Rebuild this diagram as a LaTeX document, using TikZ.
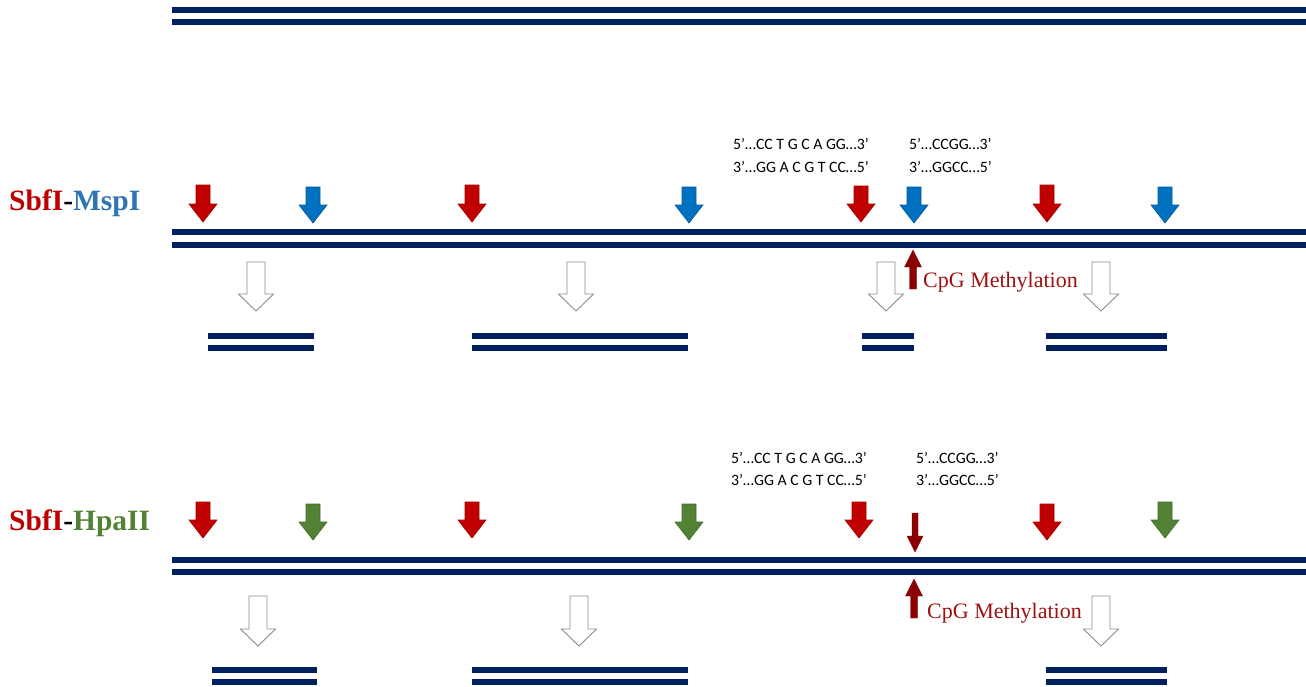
\documentclass[tikz,border=0pt]{standalone}
\usepackage{fontspec}
\setmainfont{Liberation Serif}
\newfontfamily\seqfont{Carlito}
\definecolor{navy}{HTML}{002060}
\definecolor{arrred}{HTML}{C00000}
\definecolor{arrblue}{HTML}{0070C0}
\definecolor{arrgreen}{HTML}{548235}
\definecolor{txtblue}{HTML}{2E75B6}
\definecolor{txtgreen}{HTML}{548235}
\definecolor{methred}{HTML}{8B0000}
\definecolor{methtxt}{HTML}{A01010}
\newcommand\downarr[7]{% style, x, ytop, ytip, shaft half, head half, head length
  \filldraw[#1] (#2-#5,#3) -- (#2+#5,#3) -- (#2+#5,#4-#7) -- (#2+#6,#4-#7) -- (#2,#4) -- (#2-#6,#4-#7) -- (#2-#5,#4-#7) -- cycle;}
\newcommand\uparr[7]{% style, x, ybottom, ytip, shaft half, head half, head length
  \filldraw[#1] (#2-#5,#3) -- (#2+#5,#3) -- (#2+#5,#4+#7) -- (#2+#6,#4+#7) -- (#2,#4) -- (#2-#6,#4+#7) -- (#2-#5,#4+#7) -- cycle;}
\begin{document}
\begin{tikzpicture}[x=1pt,y=-1pt,
  dna/.style={navy,line width=6pt},
  frag/.style={navy,line width=5.5pt},
  redarr/.style={fill=arrred,draw=arrred!85!black,line width=0.6pt},
  bluearr/.style={fill=arrblue,draw=arrblue!80!black,line width=0.6pt},
  greenarr/.style={fill=arrgreen,draw=arrgreen!80!black,line width=0.6pt},
  metharr/.style={fill=methred,draw=methred,line width=0.4pt},
  openarr/.style={fill=white,draw=black!45,line width=0.9pt},
  seqtxt/.style={anchor=base west,inner sep=0pt,font=\seqfont\fontsize{15.8}{15.8}\selectfont},
  titletxt/.style={anchor=base west,inner sep=0pt,font=\bfseries\fontsize{29.5}{29.5}\selectfont},
  methtext/.style={anchor=base west,inner sep=0pt,text=methtxt,font=\fontsize{22}{22}\selectfont}]
\useasboundingbox (0,0) rectangle (1306,686);

% top DNA
\draw[dna] (172,10) -- (1306,10);
\draw[dna] (172,22) -- (1306,22);

% ---------- Panel 1: SbfI-MspI ----------
\node[titletxt] (t1) at (9,210) {\textcolor{arrred}{SbfI}-\textcolor{txtblue}{MspI}};
\node[seqtxt] (s1a) at (733,149) {5’…CC T G C A GG…3’};
\node[seqtxt] (s1b) at (733,172) {3’…GG A C G T CC…5’};
\node[seqtxt] (s1c) at (909,149) {5’…CCGG…3’};
\node[seqtxt] (s1d) at (909,172) {3’…GGCC…5’};

\downarr{redarr}{203}{185}{222}{7}{14}{18}
\downarr{bluearr}{313}{187}{223}{7}{14}{18}
\downarr{redarr}{472}{185}{222}{7}{14}{18}
\downarr{bluearr}{689}{187}{223}{7}{14}{18}
\downarr{redarr}{861}{186}{222}{7}{14}{18}
\downarr{bluearr}{914}{187}{223}{7}{14}{18}
\downarr{redarr}{1047}{185}{222}{7}{14}{18}
\downarr{bluearr}{1165}{187}{223}{7}{14}{18}

\draw[dna] (172,232) -- (1306,232);
\draw[dna] (172,244.5) -- (1306,244.5);

\uparr{metharr}{913}{289}{250}{3.5}{8.5}{17}
\node[methtext] (m1) at (923,287) {CpG Methylation};

\downarr{openarr}{256}{262}{311}{9}{17.5}{17}
\downarr{openarr}{576}{262}{311}{9}{17.5}{17}
\downarr{openarr}{886}{262}{311}{9}{17.5}{17}
\downarr{openarr}{1101}{262}{311}{9}{17.5}{17}

\draw[frag] (208,336) -- (314,336);  \draw[frag] (208,348) -- (314,348);
\draw[frag] (472,336) -- (688,336);  \draw[frag] (472,348) -- (688,348);
\draw[frag] (862,336) -- (914,336);  \draw[frag] (862,348) -- (914,348);
\draw[frag] (1046,336) -- (1167,336); \draw[frag] (1046,348) -- (1167,348);

% ---------- Panel 2: SbfI-HpaII ----------
\node[titletxt] (t2) at (9,530) {\textcolor{arrred}{SbfI}-\textcolor{txtgreen}{HpaII}};
\node[seqtxt] (s2a) at (731,463) {5’…CC T G C A GG…3’};
\node[seqtxt] (s2b) at (731,485) {3’…GG A C G T CC…5’};
\node[seqtxt] (s2c) at (916,463) {5’…CCGG…3’};
\node[seqtxt] (s2d) at (916,485) {3’…GGCC…5’};

\downarr{redarr}{203}{502}{538}{7}{14}{18}
\downarr{greenarr}{313}{504}{540}{7}{14}{18}
\downarr{redarr}{472}{502}{538}{7}{14}{18}
\downarr{greenarr}{689}{504}{540}{7}{14}{18}
\downarr{redarr}{859}{502}{538}{7}{14}{18}
\downarr{metharr}{915}{513}{552}{3}{8}{16}
\downarr{redarr}{1047}{504}{540}{7}{14}{18}
\downarr{greenarr}{1165}{502}{538}{7}{14}{18}

\draw[dna] (172,560) -- (1306,560);
\draw[dna] (172,572) -- (1306,572);

\uparr{metharr}{914}{618}{579}{3.5}{8.5}{17}
\node[methtext] (m2) at (927,618) {CpG Methylation};

\downarr{openarr}{258}{596}{646}{9}{17.5}{17}
\downarr{openarr}{579}{596}{646}{9}{17.5}{17}
\downarr{openarr}{1101}{596}{646}{9}{17.5}{17}

\draw[frag] (212,670) -- (317,670);  \draw[frag] (212,682) -- (317,682);
\draw[frag] (472,670) -- (688,670);  \draw[frag] (472,682) -- (688,682);
\draw[frag] (1046,670) -- (1167,670); \draw[frag] (1046,682) -- (1167,682);
\end{tikzpicture}
\end{document}
